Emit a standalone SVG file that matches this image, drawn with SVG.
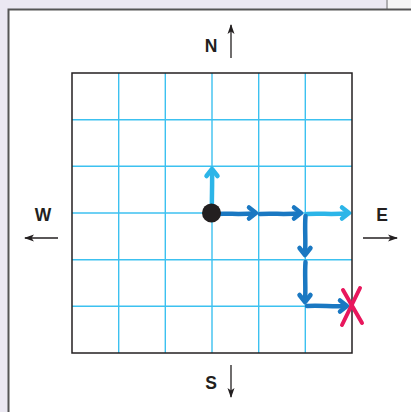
<svg xmlns="http://www.w3.org/2000/svg" width="411" height="412" viewBox="0 0 411 412">
<style>
.lbl{font-family:"Liberation Sans",Arial,sans-serif;font-weight:bold;font-size:17.5px;fill:#231f20;text-anchor:middle}
.cl{stroke:#231f20;stroke-width:1.3;fill:none}
.gl{stroke:#3cc1f0;stroke-width:1.4}
.db{stroke:#1a78c2;stroke-width:4.5;fill:none;stroke-linecap:round;stroke-linejoin:round}
.lb{stroke:#2cb5e8;stroke-width:4.5;fill:none;stroke-linecap:round;stroke-linejoin:round}
</style>
<defs>
<marker id="ah" viewBox="0 0 10 10" refX="9" refY="5" markerWidth="10" markerHeight="10" markerUnits="userSpaceOnUse" orient="auto">
<path d="M0,1.5 L10,5 L0,8.5 L2.5,5 Z" fill="#231f20"/>
</marker>
</defs>
<rect x="0" y="0" width="411" height="412" fill="#ebe8f2"/>
<line x1="387" y1="0" x2="387" y2="9" stroke="#9a9a9a" stroke-width="1.5"/>
<rect x="388" y="0" width="23" height="9" fill="#f6f6f6"/>
<rect x="8.5" y="9.5" width="410" height="410" fill="#ffffff" stroke="#555555" stroke-width="2"/>
<g id="grid">
<g class="gl">
<line x1="118.7" y1="73" x2="118.7" y2="353"/>
<line x1="165.3" y1="73" x2="165.3" y2="353"/>
<line x1="212" y1="73" x2="212" y2="353"/>
<line x1="258.7" y1="73" x2="258.7" y2="353"/>
<line x1="305.3" y1="73" x2="305.3" y2="353"/>
<line x1="72" y1="119.7" x2="352" y2="119.7"/>
<line x1="72" y1="166.3" x2="352" y2="166.3"/>
<line x1="72" y1="213" x2="352" y2="213"/>
<line x1="72" y1="259.7" x2="352" y2="259.7"/>
<line x1="72" y1="306.3" x2="352" y2="306.3"/>
</g>
<rect x="72" y="73" width="280" height="280" fill="none" stroke="#231f20" stroke-width="1.5"/>
</g>
<g id="compass">
<text class="lbl" x="211" y="52">N</text>
<line class="cl" x1="231" y1="58" x2="231" y2="25" marker-end="url(#ah)"/>
<text class="lbl" x="211" y="389">S</text>
<line class="cl" x1="231" y1="365" x2="231" y2="397" marker-end="url(#ah)"/>
<text class="lbl" x="43" y="221">W</text>
<line class="cl" x1="58" y1="238" x2="25" y2="238" marker-end="url(#ah)"/>
<text class="lbl" x="382" y="221">E</text>
<line class="cl" x1="363" y1="238" x2="397" y2="238" marker-end="url(#ah)"/>
</g>
<g id="path-arrows">
<path class="lb" d="M212,211 C211.5,200 212.5,185 212,170"/>
<path class="lb" d="M206.5,176 L212,169 L217.5,176"/>
<path class="db" d="M214,214 C228,213 242,215 255,213"/>
<path class="db" d="M249,207.5 L256,213 L249,218.5"/>
<path class="db" d="M260,214 C273,213 287,215 300,213"/>
<path class="db" d="M294,207.5 L301,213 L294,218.5"/>
<path class="lb" d="M307,214 C320,213 335,215 348,213"/>
<path class="lb" d="M342,207.5 L349,213 L342,218.5"/>
<path class="db" d="M305.5,216 C304.5,228 306,241 305,254"/>
<path class="db" d="M299.5,248 L305,255 L310.5,248"/>
<path class="db" d="M305.5,262 C304.5,275 306,288 305,301"/>
<path class="db" d="M299.5,295 L305,302 L310.5,295"/>
<path class="db" d="M307,306 C320,305 333,307 346,306"/>
<path class="db" d="M340,300.5 L347,306 L340,311.5"/>
</g>
<g id="start">
<circle cx="211.5" cy="213" r="9.5" fill="#231f20"/>
</g>
<g id="end-mark" stroke="#e8175d" stroke-width="4" stroke-linecap="round">
<line x1="343" y1="290" x2="362" y2="323"/>
<line x1="360" y1="288" x2="342" y2="325"/>
</g>
</svg>
